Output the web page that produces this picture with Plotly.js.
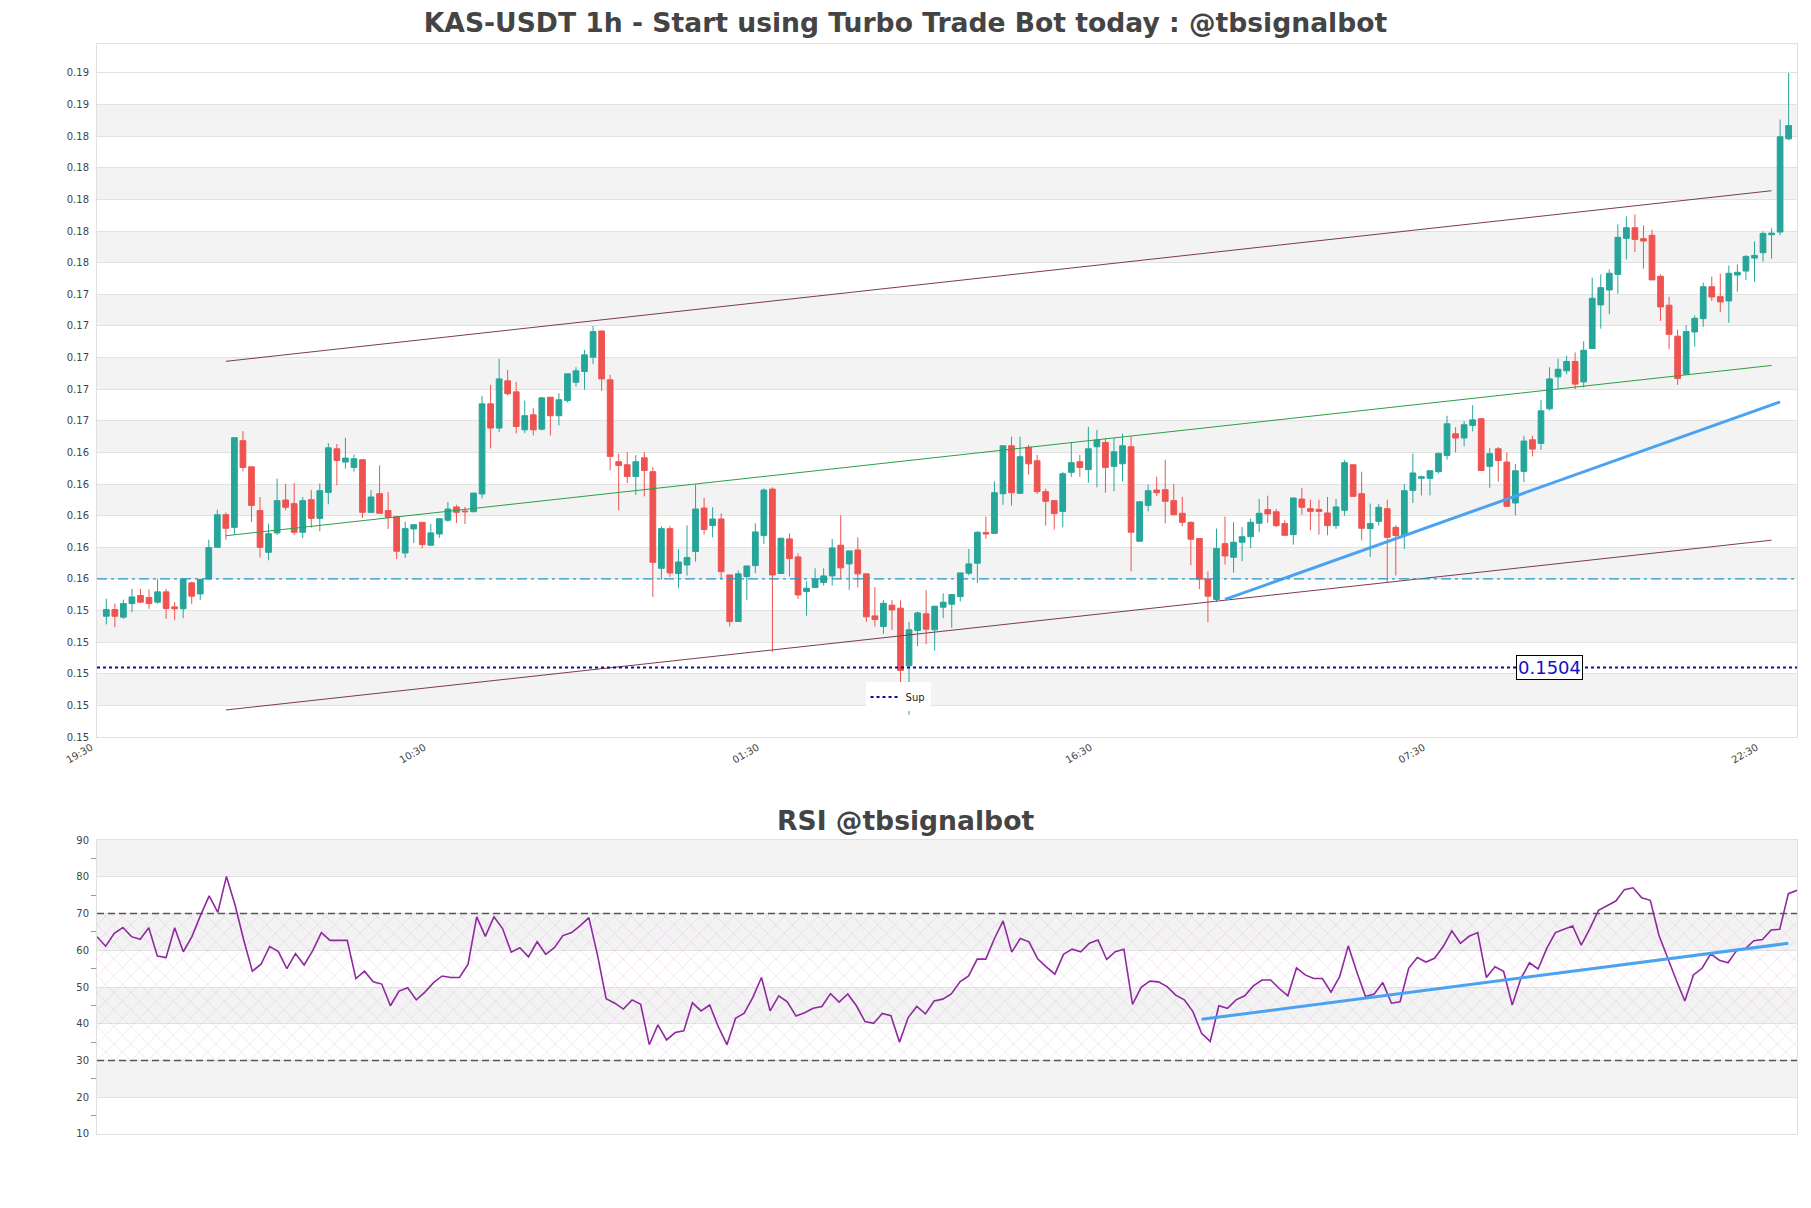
<!DOCTYPE html>
<html>
<head>
<meta charset="utf-8">
<script src="https://cdn.plot.ly/plotly-3.0.1.min.js"></script>
<style>
  html, body { margin: 0; padding: 0; background: #fff; }
  #graph { width: 1811px; height: 1208px; }
</style>
</head>
<body>
<div id="graph"></div>
<script>
// hourly candles, first one at 19:30
var tickIdx = [0, 39, 78, 117, 156, 195];
var tickText = ['19:30', '10:30', '01:30', '16:30', '07:30', '22:30'];

var open = [0.15364,0.15406,0.15358,0.15444,0.15495,0.15482,0.15453,0.15518,0.15423,0.15411,
0.15575,0.15505,0.15600,0.15800,0.16006,0.15926,0.16474,0.16309,0.16032,0.15768,
0.15891,0.16099,0.16076,0.15895,0.16101,0.15983,0.16147,0.16423,0.16339,0.16305,
0.16354,0.16021,0.16139,0.16032,0.15994,0.15764,0.15916,0.15958,0.15813,0.15884,
0.15971,0.16055,0.16029,0.16025,0.16137,0.16707,0.16554,0.16853,0.16783,0.16543,
0.16638,0.16547,0.16749,0.16632,0.16728,0.16844,0.16912,0.17002,0.17168,0.16859,
0.16341,0.16322,0.16248,0.16366,0.16278,0.15667,0.15918,0.15634,0.15688,0.15773,
0.16048,0.15937,0.15979,0.15625,0.15331,0.15615,0.15684,0.15874,0.16168,0.15634,
0.15853,0.15739,0.15520,0.15545,0.15577,0.15619,0.15813,0.15695,0.15783,0.15632,
0.15366,0.15299,0.15434,0.15415,0.15051,0.15274,0.15379,0.15278,0.15421,0.15440,
0.15488,0.15636,0.15699,0.15893,0.15888,0.16139,0.16442,0.16141,0.16432,0.16347,
0.16152,0.16095,0.16027,0.16274,0.16341,0.16291,0.16436,0.16463,0.16312,0.16328,
0.16436,0.15838,0.16065,0.16162,0.16164,0.16095,0.16015,0.15958,0.15855,0.15600,
0.15470,0.15823,0.15737,0.15832,0.15867,0.15952,0.16038,0.16025,0.15950,0.15880,
0.16105,0.16044,0.16040,0.16017,0.15937,0.16034,0.16322,0.16139,0.15918,0.15964,
0.16044,0.15926,0.15878,0.16160,0.16236,0.16236,0.16278,0.16381,0.16518,0.16491,
0.16571,0.16613,0.16312,0.16423,0.16339,0.16080,0.16280,0.16480,0.16457,0.16676,
0.16878,0.16916,0.16975,0.16846,0.17057,0.17333,0.17427,0.17526,0.17754,0.17821,
0.17752,0.17773,0.17514,0.17331,0.17135,0.16895,0.17162,0.17246,0.17448,0.17385,
0.17358,0.17522,0.17547,0.17629,0.17663,0.17777,0.17794,0.18383];

var high = [0.15474,0.15444,0.15469,0.15537,0.15537,0.15533,0.15600,0.15537,0.15453,0.15606,
0.15583,0.15600,0.15848,0.16038,0.16021,0.16493,0.16535,0.16309,0.16118,0.15949,
0.16234,0.16202,0.16206,0.16118,0.16162,0.16204,0.16459,0.16453,0.16493,0.16387,
0.16354,0.16162,0.16318,0.16149,0.16000,0.15962,0.15943,0.15958,0.15949,0.15981,
0.16086,0.16069,0.16055,0.16143,0.16758,0.16827,0.16992,0.16922,0.16846,0.16728,
0.16680,0.16749,0.16749,0.16775,0.16897,0.16939,0.17048,0.17200,0.17168,0.16891,
0.16392,0.16402,0.16383,0.16402,0.16307,0.15933,0.15935,0.15787,0.15939,0.16198,
0.16112,0.16053,0.16015,0.15625,0.15653,0.15682,0.15952,0.16173,0.16179,0.15861,
0.15888,0.15762,0.15585,0.15667,0.15667,0.15853,0.16002,0.15777,0.15863,0.15632,
0.15549,0.15467,0.15467,0.15465,0.15328,0.15394,0.15528,0.15427,0.15509,0.15505,
0.15638,0.15789,0.15901,0.15994,0.16217,0.16442,0.16499,0.16499,0.16448,0.16385,
0.16171,0.16095,0.16276,0.16461,0.16385,0.16562,0.16543,0.16491,0.16491,0.16518,
0.16501,0.16088,0.16196,0.16246,0.16354,0.16202,0.16120,0.15964,0.15855,0.15648,
0.15918,0.15994,0.15958,0.15928,0.15981,0.16105,0.16126,0.16042,0.15971,0.16112,
0.16175,0.16101,0.16101,0.16118,0.16105,0.16352,0.16322,0.16278,0.16076,0.16074,
0.16101,0.15939,0.16200,0.16392,0.16253,0.16288,0.16398,0.16632,0.16560,0.16598,
0.16699,0.16613,0.16427,0.16434,0.16400,0.16328,0.16505,0.16505,0.16733,0.16939,
0.16994,0.17011,0.17032,0.17103,0.17505,0.17526,0.17558,0.17842,0.17893,0.17905,
0.17836,0.17808,0.17526,0.17385,0.17177,0.17204,0.17267,0.17474,0.17512,0.17531,
0.17583,0.17589,0.17646,0.17735,0.17798,0.17817,0.18505,0.18800];

var low = [0.15312,0.15295,0.15347,0.15389,0.15448,0.15411,0.15444,0.15347,0.15339,0.15352,
0.15440,0.15467,0.15596,0.15800,0.15848,0.15878,0.16280,0.15960,0.15735,0.15718,
0.15878,0.16034,0.15878,0.15857,0.15924,0.15901,0.16072,0.16192,0.16297,0.16278,
0.15985,0.16021,0.16015,0.15916,0.15726,0.15733,0.15827,0.15794,0.15813,0.15859,
0.15962,0.15954,0.15947,0.16021,0.16109,0.16425,0.16528,0.16760,0.16520,0.16522,
0.16507,0.16539,0.16507,0.16571,0.16716,0.16817,0.16796,0.16958,0.16789,0.16286,
0.16034,0.16206,0.16131,0.16122,0.15486,0.15594,0.15613,0.15541,0.15621,0.15709,
0.15880,0.15863,0.15598,0.15299,0.15328,0.15467,0.15636,0.15821,0.15137,0.15634,
0.15615,0.15474,0.15366,0.15545,0.15558,0.15558,0.15602,0.15531,0.15547,0.15328,
0.15299,0.15253,0.15278,0.14941,0.14741,0.15173,0.15187,0.15147,0.15352,0.15291,
0.15457,0.15623,0.15575,0.15853,0.15888,0.16069,0.16063,0.16141,0.16259,0.16137,
0.15937,0.15912,0.15926,0.16246,0.16246,0.16208,0.16179,0.16145,0.16154,0.16217,
0.15648,0.15838,0.16027,0.16124,0.15952,0.16002,0.15933,0.15686,0.15535,0.15326,
0.15455,0.15691,0.15640,0.15712,0.15796,0.15895,0.15954,0.15928,0.15876,0.15817,
0.16006,0.15907,0.15880,0.15876,0.15916,0.16000,0.16122,0.15844,0.15739,0.15937,
0.15575,0.15621,0.15789,0.16080,0.16128,0.16128,0.16267,0.16354,0.16400,0.16438,
0.16533,0.16286,0.16177,0.16215,0.16055,0.16002,0.16211,0.16375,0.16417,0.16665,
0.16800,0.16895,0.16800,0.16811,0.17057,0.17183,0.17274,0.17404,0.17621,0.17667,
0.17562,0.17491,0.17232,0.17053,0.16827,0.16895,0.17069,0.17194,0.17358,0.17288,
0.17221,0.17417,0.17491,0.17480,0.17606,0.17625,0.17773,0.18375];

var close = [0.15406,0.15364,0.15444,0.15486,0.15453,0.15444,0.15518,0.15413,0.15411,0.15600,
0.15491,0.15596,0.15798,0.16006,0.15920,0.16493,0.16305,0.16065,0.15800,0.15886,
0.16095,0.16053,0.15895,0.16095,0.15983,0.16158,0.16429,0.16349,0.16364,0.16360,
0.16021,0.16118,0.16015,0.15989,0.15775,0.15918,0.15943,0.15817,0.15891,0.15981,
0.16042,0.16021,0.16025,0.16143,0.16707,0.16554,0.16865,0.16771,0.16564,0.16632,
0.16543,0.16745,0.16632,0.16733,0.16897,0.16916,0.17017,0.17164,0.16865,0.16375,
0.16318,0.16248,0.16341,0.16286,0.15705,0.15918,0.15638,0.15707,0.15735,0.16042,
0.15912,0.15979,0.15646,0.15331,0.15632,0.15682,0.15897,0.16162,0.15625,0.15857,
0.15728,0.15499,0.15541,0.15598,0.15619,0.15796,0.15670,0.15777,0.15632,0.15360,
0.15343,0.15446,0.15404,0.15021,0.15278,0.15385,0.15282,0.15427,0.15453,0.15501,
0.15638,0.15695,0.15895,0.15884,0.16145,0.16442,0.16145,0.16373,0.16328,0.16152,
0.16091,0.16013,0.16265,0.16335,0.16305,0.16423,0.16478,0.16305,0.16404,0.16442,
0.15895,0.16088,0.16158,0.16145,0.16091,0.16006,0.15958,0.15851,0.15598,0.15491,
0.15792,0.15745,0.15832,0.15867,0.15958,0.16015,0.16011,0.15937,0.15876,0.16112,
0.16053,0.16027,0.16027,0.15937,0.16055,0.16335,0.16122,0.15920,0.15950,0.16053,
0.15863,0.15874,0.16158,0.16270,0.16246,0.16284,0.16394,0.16581,0.16491,0.16575,
0.16606,0.16286,0.16392,0.16349,0.16059,0.16284,0.16472,0.16421,0.16663,0.16865,
0.16926,0.16975,0.16832,0.17046,0.17375,0.17442,0.17533,0.17760,0.17821,0.17747,
0.17737,0.17491,0.17320,0.17147,0.16867,0.17164,0.17248,0.17448,0.17383,0.17352,
0.17533,0.17539,0.17640,0.17646,0.17785,0.17787,0.18396,0.18467];

var rsi = [63.7,61.1,64.6,66.2,63.7,63.0,66.1,58.4,58.0,66.1,
59.6,63.7,69.5,74.8,70.3,80.1,72.3,62.8,54.3,56.2,
61.0,59.7,55.0,59.1,56.0,59.9,64.8,62.7,62.7,62.7,
52.3,54.3,51.4,50.8,44.9,48.9,49.8,46.5,48.6,51.2,
53.0,52.6,52.6,56.2,69.1,63.8,69.1,65.9,59.5,60.7,
58.2,62.3,58.9,60.7,64.0,64.8,66.7,68.9,58.7,46.8,
45.6,44.0,46.5,45.3,34.3,39.7,35.6,37.6,38.1,45.7,
43.5,45.1,39.2,34.3,41.5,42.9,47.2,52.6,43.5,47.6,
46.0,42.1,43.0,44.2,44.7,48.2,45.9,48.1,44.9,40.6,
40.1,42.8,42.2,35.0,41.7,44.7,42.7,46.2,46.7,48.1,
51.4,53.0,57.6,57.6,63.2,68.0,59.5,63.2,62.3,57.7,
55.5,53.5,58.9,60.3,59.6,61.9,62.8,57.5,59.6,60.3,
45.3,49.9,51.6,51.4,50.1,47.8,46.5,43.3,37.4,35.2,
44.9,44.2,46.5,47.6,50.3,51.9,51.9,49.6,47.6,55.2,
53.3,52.3,52.3,48.6,52.8,61.2,54.0,47.4,48.1,51.2,
45.6,46.0,55.1,58.0,56.8,57.8,61.0,65.3,61.9,63.8,
64.8,52.6,55.5,54.3,45.1,52.3,56.6,54.9,60.5,64.8,
65.7,66.6,61.4,65.9,70.9,72.2,73.4,76.5,77.0,74.3,
73.6,64.1,57.8,51.9,46.2,53.3,55.1,59.0,57.3,56.6,
59.9,60.4,62.6,62.9,65.5,65.7,75.4,76.3];

// channel (upper / mid / lower) and trend lines
var chanX = [14, 195];
var chanUpper = [0.16976, 0.18055];
var chanMid = [0.15873, 0.16950];
var chanLower = [0.14771, 0.15845];
var trendX = [131, 196];
var trendY = [0.1547, 0.1672];
var rsiTrendX = [128, 196];
var rsiTrendY = [41.2, 61.9];
var supLevel = 0.1504;
var midLevel = 0.156;

var idx = close.map(function(v, i) { return i; });
var xRange = [-1.09, 197.98];

var data = [{
	type: 'candlestick',
	x: idx, open: open, high: high, low: low, close: close,
	increasing: {line: {color: '#26a69a', width: 1}, fillcolor: '#26a69a'},
	decreasing: {line: {color: '#ef5350', width: 1}, fillcolor: '#ef5350'},
	whiskerwidth: 0,
	showlegend: false, hoverinfo: 'skip',
	xaxis: 'x', yaxis: 'y'
},{
	type: 'scatter', mode: 'lines', x: chanX, y: chanUpper,
	line: {color: '#7d3b50', width: 1}, showlegend: false, xaxis: 'x', yaxis: 'y'
},{
	type: 'scatter', mode: 'lines', x: chanX, y: chanLower,
	line: {color: '#7d3b50', width: 1}, showlegend: false, xaxis: 'x', yaxis: 'y'
},{
	type: 'scatter', mode: 'lines', x: chanX, y: chanMid,
	line: {color: '#2e9e46', width: 1}, showlegend: false, xaxis: 'x', yaxis: 'y'
},{
	type: 'scatter', mode: 'lines', x: trendX, y: trendY,
	line: {color: '#4aa3f2', width: 3}, showlegend: false, xaxis: 'x', yaxis: 'y'
},{
	type: 'scatter', mode: 'lines', x: xRange, y: [supLevel, supLevel],
	line: {color: '#0a0aa8', width: 2, dash: 'dot'}, name: 'Sup',
	xaxis: 'x', yaxis: 'y'
},{
	type: 'scatter', mode: 'lines', x: [0, idx.length - 1, idx.length - 1, 0], y: [70, 70, 30, 30],
	fill: 'toself', fillcolor: 'rgba(0,0,0,0)',
	fillpattern: {shape: 'x', fgcolor: 'rgba(200,140,200,0.45)', size: 12, solidity: 0.08},
	line: {width: 0}, showlegend: false, hoverinfo: 'skip', xaxis: 'x2', yaxis: 'y2'
},{
	type: 'scatter', mode: 'lines', x: idx, y: rsi,
	line: {color: '#8e2a9e', width: 1.6}, showlegend: false, xaxis: 'x2', yaxis: 'y2'
},{
	type: 'scatter', mode: 'lines', x: rsiTrendX, y: rsiTrendY,
	line: {color: '#4aa3f2', width: 3}, showlegend: false, xaxis: 'x2', yaxis: 'y2'
}];

var shapes = [];
// alternating grey bands
for (var b = 0.148; b < 0.186; b += 0.004) {
	shapes.push({type: 'rect', xref: 'x domain', yref: 'y', x0: 0, x1: 1, y0: b, y1: b + 0.002,
		fillcolor: '#f3f3f3', line: {width: 0}, layer: 'below'});
}
[20, 40, 60, 80].forEach(function(v) {
	shapes.push({type: 'rect', xref: 'x2 domain', yref: 'y2', x0: 0, x1: 1, y0: v, y1: v + 10,
		fillcolor: '#f3f3f3', line: {width: 0}, layer: 'below'});
});
shapes.push({type: 'line', xref: 'x domain', yref: 'y', x0: 0, x1: 1, y0: midLevel, y1: midLevel,
	line: {color: '#1f98d4', width: 1.2, dash: '10px,4px,3px,4px'}});
[70, 30].forEach(function(v) {
	shapes.push({type: 'line', xref: 'x2 domain', yref: 'y2', x0: 0, x1: 1, y0: v, y1: v,
		line: {color: '#555', width: 1.5, dash: '7px,4px'}});
});

var fam = '"DejaVu Sans", sans-serif';
var tickFont = {family: fam, size: 10, color: '#444'};
var gridCol = '#e2e2e2';
var borderCol = '#e0e0e0';

var layout = {
	width: 1811, height: 1208,
	margin: {l: 97, r: 14, t: 44, b: 74},
	paper_bgcolor: '#fff', plot_bgcolor: '#fff',
	font: {family: fam, color: '#444'},
	title: {text: '<b>KAS-USDT 1h - Start using Turbo Trade Bot today : @tbsignalbot</b>',
		font: {family: fam, size: 26.6, color: '#444'}, x: 0.5, xanchor: 'center', y: 1 - 23 / 1208, yanchor: 'middle'},
	boxgap: 0.33, boxgroupgap: 0,
	showlegend: true,
	legend: {x: 0.4712, y: 0.401, xanchor: 'center', yanchor: 'middle', bgcolor: '#fff',
		font: {family: fam, size: 10, color: '#222'}},
	xaxis: {domain: [0, 1], anchor: 'y', range: xRange, tickmode: 'array', tickvals: tickIdx, ticktext: tickText,
		tickangle: -30, tickfont: tickFont, ticklabelshift: -15, showgrid: false, zeroline: false, ticks: '',
		showline: true, mirror: true, linecolor: borderCol, rangeslider: {visible: false}},
	yaxis: {domain: [0.3642, 1], anchor: 'x', range: [0.146, 0.18983], tick0: 0.146, dtick: 0.002,
		tickformat: '.2f', tickfont: tickFont, ticklabelstandoff: 5, gridcolor: gridCol, zeroline: false, ticks: '',
		showline: true, mirror: true, linecolor: borderCol},
	xaxis2: {domain: [0, 1], anchor: 'y2', range: [0, idx.length - 1], showticklabels: false,
		showgrid: false, zeroline: false, showline: true, mirror: true, linecolor: borderCol},
	yaxis2: {domain: [0, 0.2697], anchor: 'x2', range: [10, 90], dtick: 10, tickfont: tickFont,
		ticklabelstandoff: 5, gridcolor: gridCol, zeroline: false, ticks: '', showline: true, mirror: true,
		linecolor: borderCol,
		minor: {ticks: 'outside', ticklen: 5, tickcolor: '#999', dtick: 5, showgrid: false}},
	shapes: shapes,
	annotations: [{
		xref: 'x', yref: 'y', x: 169, y: supLevel, text: '0.1504', showarrow: false,
		font: {family: fam, size: 18, color: '#1010c8'},
		bgcolor: '#fff', bordercolor: '#000', borderwidth: 1, borderpad: 1
	},{
		xref: 'paper', yref: 'paper', x: 0.4753, y: 0.288, xanchor: 'center', yanchor: 'middle',
		text: '<b>RSI @tbsignalbot</b>', showarrow: false, font: {family: fam, size: 26.6, color: '#444'}
	}]
};

Plotly.newPlot('graph', data, layout, {staticPlot: true});
</script>
</body>
</html>
